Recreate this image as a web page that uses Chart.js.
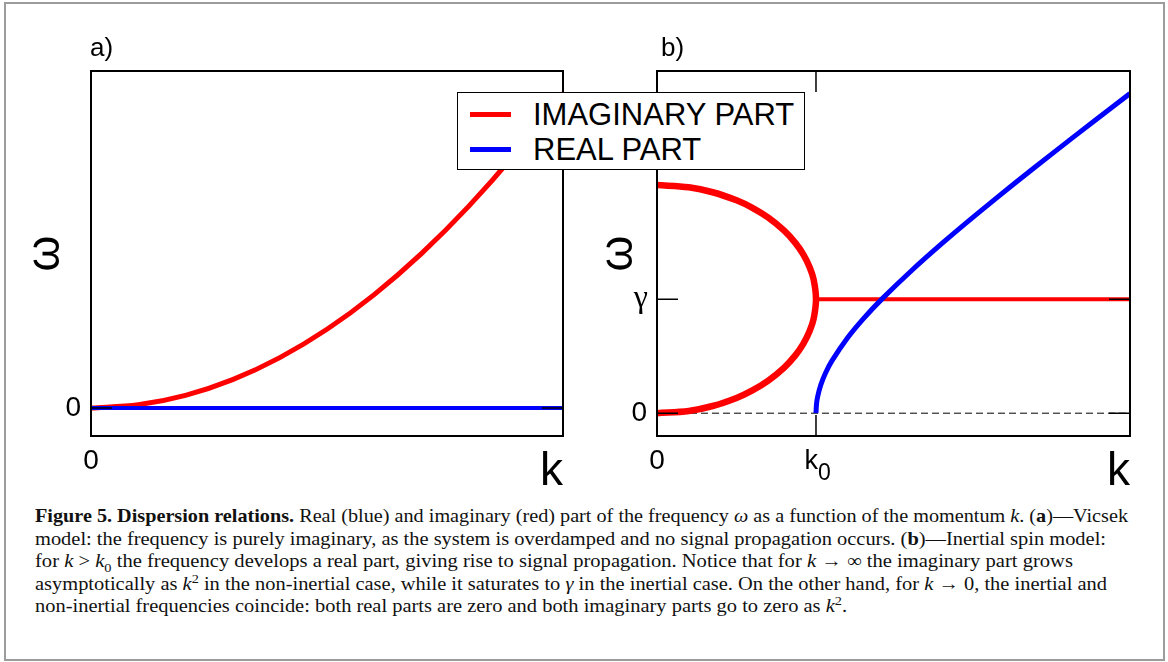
<!DOCTYPE html>
<html>
<head>
<meta charset="utf-8">
<script src="https://cdn.jsdelivr.net/npm/chart.js@4"></script>
<style>
  html, body { margin: 0; padding: 0; background: #fff; }
  #page { position: relative; width: 1168px; height: 662px; overflow: hidden; }
  #frame { position: absolute; left: 4px; top: 2px; width: 1157px; height: 655px; border: 2px solid #9c9c9c; }
  canvas { position: absolute; top: 0; }
  #chartA { left: 0; }
  #chartB { left: 580px; }
  #legend { position: absolute; left: 457px; top: 92px; width: 346px; height: 76px; border: 1.5px solid #000; background: #fff;
            font-family: "Liberation Sans", Arial, sans-serif; font-size: 31px; z-index: 5; }
  #legend .row { position: absolute; left: 0; height: 34px; line-height: 34px; white-space: nowrap; }
  #legend .swatch { position: absolute; left: 12px; top: 15px; width: 41px; height: 5px; }
  #legend .label { position: absolute; left: 75px; top: 1px; }
  #caption { position: absolute; left: 35px; top: 505px; font-family: "Liberation Serif", "Times New Roman", serif; font-size: 19px; color: #111; }
  #caption .line { height: 22.5px; line-height: 22.5px; white-space: nowrap; }
  #caption .line span.fit { display: inline-block; transform-origin: 0 50%; }
  #caption sub, #caption sup { font-size: 70%; line-height: 0; }
</style>
</head>
<body>
<div id="page">
  <div id="frame"></div>
  <canvas id="chartA" width="600" height="500"></canvas>
  <canvas id="chartB" width="588" height="500"></canvas>
  <div id="legend"></div>
  <div id="caption">
    <div class="line"><span class="fit"><b>Figure 5. Dispersion relations.</b> Real (blue) and imaginary (red) part of the frequency <i>ω</i> as a function of the momentum <i>k</i>. (<b>a</b>)—Vicsek</span></div>
    <div class="line"><span class="fit">model: the frequency is purely imaginary, as the system is overdamped and no signal propagation occurs. (<b>b</b>)—Inertial spin model:</span></div>
    <div class="line"><span class="fit">for <i>k</i> &gt; <i>k</i><sub>0</sub> the frequency develops a real part, giving rise to signal propagation. Notice that for <i>k</i> → ∞ the imaginary part grows</span></div>
    <div class="line"><span class="fit">asymptotically as <i>k</i><sup>2</sup> in the non-inertial case, while it saturates to <i>γ</i> in the inertial case. On the other hand, for <i>k</i> → 0, the inertial and</span></div>
    <div class="line"><span class="fit">non-inertial frequencies coincide: both real parts are zero and both imaginary parts go to zero as <i>k</i><sup>2</sup>.</span></div>
  </div>
</div>
<script>
// panel a) Vicsek model (k scaled to the panel width, omega to the curve end)
const kA = [0, 0.1, 0.2, 0.3, 0.4, 0.5, 0.6, 0.7, 0.8, 0.9, 1.0];
const imagA = [0, 0.01, 0.04, 0.09, 0.16, 0.25, 0.36, 0.49, 0.64, 0.81, 1.0];
const realKA = [0, 1.0];
const realA = [0, 0];

// panel b) inertial spin model (k in units of k0, omega in units of gamma)
const arcK = [0, 0.2, 0.35, 0.5, 0.6, 0.7, 0.8, 0.87, 0.92, 0.96, 0.985, 1.0,
              0.985, 0.96, 0.92, 0.87, 0.8, 0.7, 0.6, 0.5, 0.35, 0.2, 0];
const arcW = [2.0, 1.98, 1.937, 1.866, 1.8, 1.714, 1.6, 1.493, 1.392, 1.28, 1.173, 1.0,
              0.827, 0.72, 0.608, 0.507, 0.4, 0.286, 0.2, 0.134, 0.063, 0.02, 0];
const flatK = [1.0, 2.975];
const flatW = [1.0, 1.0];
const realKB = [1.0, 1.003, 1.01, 1.03, 1.06, 1.1, 1.2, 1.3, 1.414, 1.6, 1.8, 2.0, 2.25, 2.5, 2.75, 2.975];
const realB = [0, 0.077, 0.142, 0.247, 0.352, 0.458, 0.663, 0.831, 1.0, 1.249, 1.497, 1.732, 2.016, 2.291, 2.562, 2.802];
const zeroK = [0, 2.975];
const zeroW = [0, 0];

const ticksAx = [0], ticksAy = [0];
const ticksBx = [0, 1], ticksBy = [0, 1];

const legendItems = [
  { label: 'IMAGINARY PART', color: '#ff0000' },
  { label: 'REAL PART', color: '#0000ff' }
];

const pts = (xs, ys) => xs.map((x, i) => ({ x: x, y: ys[i] }));
const SANS = '"Liberation Sans", Arial, sans-serif';
const SERIF = '"Liberation Serif", "Times New Roman", serif';

const boxPlugin = {
  id: 'box',
  afterDatasetsDraw(chart, args, opts) {
    const { ctx, chartArea: a, scales } = chart;
    const L = 21;
    ctx.save();
    ctx.strokeStyle = '#000';
    ctx.lineWidth = 1.5;
    ctx.beginPath();
    scales.y.ticks.forEach(t => {
      const py = scales.y.getPixelForValue(t.value);
      ctx.moveTo(a.left, py); ctx.lineTo(a.left + L, py);
      ctx.moveTo(a.right - L, py); ctx.lineTo(a.right, py);
    });
    scales.x.ticks.forEach(t => {
      const px = scales.x.getPixelForValue(t.value);
      if (px <= a.left + 1 || px >= a.right - 1) return;
      ctx.moveTo(px, a.bottom); ctx.lineTo(px, a.bottom - L);
      ctx.moveTo(px, a.top); ctx.lineTo(px, a.top + L);
    });
    ctx.stroke();
    ctx.lineWidth = 2;
    ctx.strokeRect(a.left, a.top, a.right - a.left, a.bottom - a.top);
    ctx.fillStyle = '#000';
    ctx.font = '26px ' + SANS;
    ctx.textBaseline = 'alphabetic';
    ctx.fillText(opts.text, a.left + opts.dx, 56);
    if (opts.subTick != null) {
      // k0 under the bottom axis
      const px = scales.x.getPixelForValue(opts.subTick);
      ctx.font = '27px ' + SANS;
      ctx.textAlign = 'right';
      ctx.fillText('k', px + 2, 469);
      ctx.font = '23px ' + SANS;
      ctx.textAlign = 'left';
      ctx.fillText('0', px + 2, 480);
    }
    if (opts.gammaTick != null) {
      // gamma on the left axis
      const py = scales.y.getPixelForValue(opts.gammaTick);
      ctx.font = '32px ' + SERIF;
      ctx.textAlign = 'right';
      ctx.textBaseline = 'middle';
      ctx.fillText('γ', a.left - 9, py - 1);
    }
    ctx.restore();
  }
};

function axes(xMin, xMax, yMin, yMax, xTicks, yTicks, xLabel, yLabel, yAxisWidth, yTitlePad) {
  return {
    x: {
      type: 'linear', min: xMin, max: xMax,
      grid: { display: false, drawTicks: false },
      border: { display: false },
      afterBuildTicks: s => { s.ticks = xTicks.map(v => ({ value: v })); },
      afterFit: s => { s.height = 64; },
      ticks: { color: '#000', font: { family: SANS, size: 28 }, padding: 8, maxRotation: 0,
               callback: xLabel },
      title: { display: true, text: 'k', align: 'end', color: '#000', font: { family: SANS, size: 46 }, padding: 0 }
    },
    y: {
      type: 'linear', min: yMin, max: yMax,
      grid: { display: false, drawTicks: false },
      border: { display: false },
      afterBuildTicks: s => { s.ticks = yTicks.map(v => ({ value: v })); },
      afterFit: s => { s.width = yAxisWidth; },
      ticks: { color: '#000', font: { family: SANS, size: 28 }, padding: 10, callback: yLabel },
      title: { display: true, text: 'ω', color: '#000', font: { family: SANS, size: 46 }, padding: { top: yTitlePad, bottom: 0 } }
    }
  };
}

new Chart(document.getElementById('chartA'), {
  type: 'scatter',
  data: {
    datasets: [
      { label: 'REAL PART', data: pts(realKA, realA), showLine: true, borderColor: '#0000ff', borderWidth: 4, pointRadius: 0, order: 1 },
      { label: 'IMAGINARY PART', data: pts(kA, imagA), showLine: true, borderColor: '#ff0000', borderWidth: 5, pointRadius: 0,
        tension: 0.4, cubicInterpolationMode: 'monotone', order: 2 }
    ]
  },
  options: {
    responsive: false, animation: false,
    layout: { padding: { left: 0, right: 37, top: 71, bottom: 0 } },
    plugins: { legend: { display: false }, tooltip: { enabled: false }, box: { text: 'a)', dx: -1 } },
    scales: axes(0, 1.0, -0.0889, 1.0698, ticksAx, ticksAy, v => '0', v => '0', 91, 19)
  },
  plugins: [boxPlugin]
});

new Chart(document.getElementById('chartB'), {
  type: 'scatter',
  data: {
    datasets: [
      { label: 'REAL PART', data: pts(realKB, realB), showLine: true, borderColor: '#0000ff', borderWidth: 5, pointRadius: 0,
        tension: 0.3, order: 1 },
      { label: 'IMAGINARY PART', data: pts(arcK, arcW), showLine: true, borderColor: '#ff0000', borderWidth: 6.5, pointRadius: 0,
        tension: 0.35, order: 2 },
      { label: 'IMAGINARY PART', data: pts(flatK, flatW), showLine: true, borderColor: '#ff0000', borderWidth: 4, pointRadius: 0, order: 3 },
      { label: 'zero', data: pts(zeroK, zeroW), showLine: true, borderColor: '#000', borderWidth: 1, borderDash: [7, 4], pointRadius: 0, order: 4 }
    ]
  },
  options: {
    responsive: false, animation: false,
    layout: { padding: { left: 0, right: 38, top: 71, bottom: 0 } },
    plugins: { legend: { display: false }, tooltip: { enabled: false }, box: { text: 'b)', dx: 4, subTick: 1, gammaTick: 1 } },
    scales: axes(0, 2.975, -0.2, 3.0, ticksBx, ticksBy, v => (v === 0 ? '0' : ''), v => (v === 0 ? '0' : ''), 77, 12)
  },
  plugins: [boxPlugin]
});

// legend shared by both panels
const legend = document.getElementById('legend');
legendItems.forEach((item, i) => {
  const row = document.createElement('div');
  row.className = 'row';
  row.style.top = (4 + i * 35) + 'px';
  row.innerHTML = '<div class="swatch" style="background:' + item.color + '"></div><div class="label">' + item.label + '</div>';
  legend.appendChild(row);
});

// fit caption lines to the widths of the printed caption
const lineWidths = [1093, 1071, 1038, 1072, 812];
document.querySelectorAll('#caption .fit').forEach((el, i) => {
  const w = el.getBoundingClientRect().width;
  el.style.transform = 'scaleX(' + (lineWidths[i] / w) + ')';
});
</script>
</body>
</html>
